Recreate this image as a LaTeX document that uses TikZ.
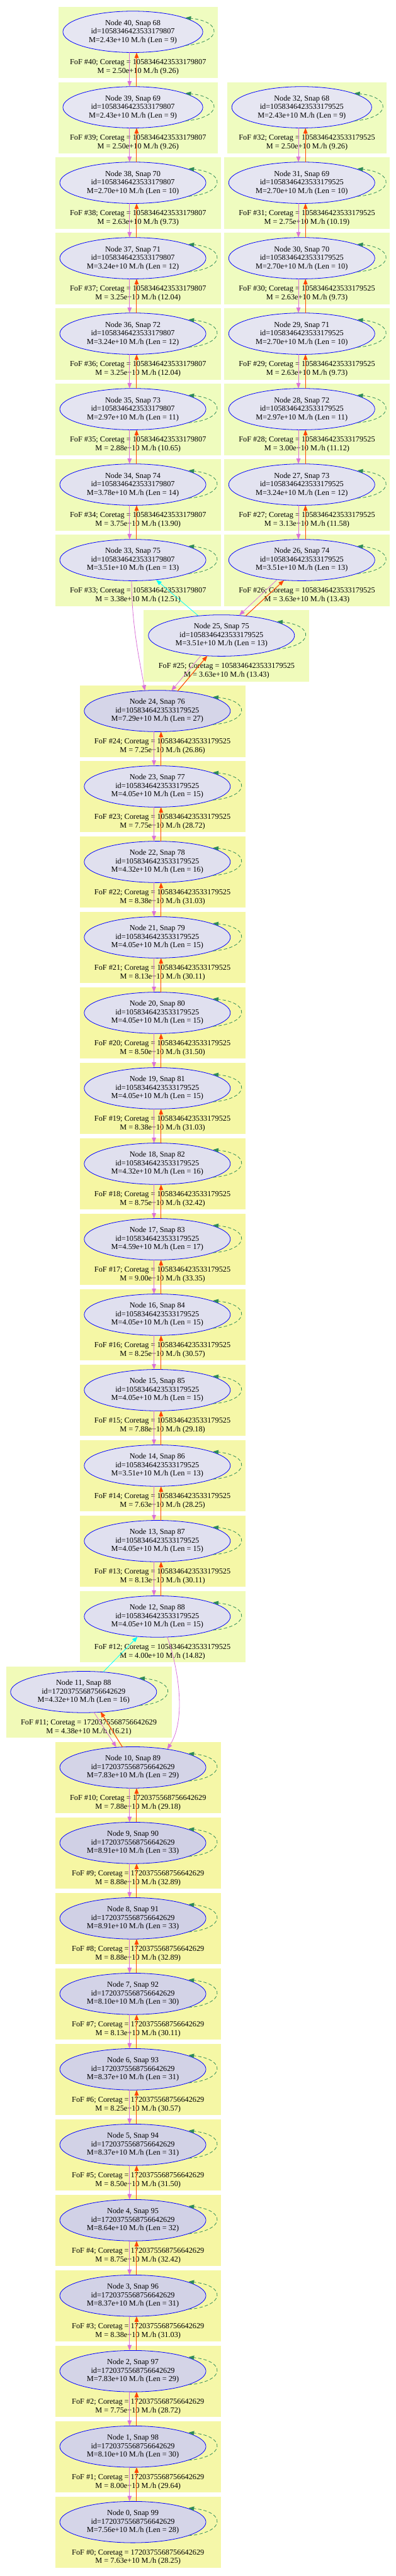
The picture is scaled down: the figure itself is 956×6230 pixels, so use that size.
\documentclass[tikz,border=0pt]{standalone}
\usepackage{fontspec}
\setmainfont{Liberation Serif}
\usetikzlibrary{shapes.geometric, arrows.meta}
\definecolor{halolo}{HTML}{E6E6F2}
\definecolor{halohi}{HTML}{D0D0E5}
\definecolor{foflo}{HTML}{EFFCC0}
\definecolor{fofhi}{HTML}{F6F6A2}
\definecolor{progviolet}{HTML}{DA70D6}
\definecolor{descorange}{HTML}{FF4500}
\definecolor{mergecyan}{HTML}{00FFFF}
\definecolor{loopgreen}{HTML}{2E8B57}
\newcommand{\tagA}{1058346423533179807}
\newcommand{\tagB}{1058346423533179525}
\newcommand{\tagC}{1720375568756642629}
\tikzset{
    halo/.style={ellipse, draw=blue, line width=0.9pt, inner sep=0pt, minimum height=75pt, align=center, font=\fontsize{14}{15.4}\selectfont},
    foflabel/.style={inner sep=0pt, align=center, font=\fontsize{14}{15.4}\selectfont},
    tip/.style={-{Triangle[length=10pt,width=7.5pt]}},
    prog/.style={tip, draw=progviolet, line width=0.9pt},
    desc/.style={tip, draw=descorange, line width=1.2pt},
    merge/.style={tip, draw=mergecyan, line width=0.9pt},
    selfloop/.style={tip, draw=loopgreen, dash pattern=on 6pt off 4pt, line width=0.9pt}
}

\begin{document}
\begin{tikzpicture}[x=0.75pt, y=-0.75pt]
\useasboundingbox (0,0) rectangle (956,6230);
% halo boxes and nodes: id / x / row / snap / coretag / M / Len / FoF M / FoF ratio
\foreach \nid/\cx/\row/\snap/\ctag/\mass/\len/\fmass/\fratio in {
    40/321/0/68/\tagA/2.43/9/2.50/9.26,
    39/321/1/69/\tagA/2.43/9/2.50/9.26,
    38/321/2/70/\tagA/2.70/10/2.63/9.73,
    37/321/3/71/\tagA/3.24/12/3.25/12.04,
    36/321/4/72/\tagA/3.24/12/3.25/12.04,
    35/321/5/73/\tagA/2.97/11/2.88/10.65,
    34/321/6/74/\tagA/3.78/14/3.75/13.90,
    33/321/7/75/\tagA/3.51/13/3.38/12.51,
    32/729/1/68/\tagB/2.43/9/2.50/9.26,
    31/729/2/69/\tagB/2.70/10/2.75/10.19,
    30/729/3/70/\tagB/2.70/10/2.63/9.73,
    29/729/4/71/\tagB/2.70/10/2.63/9.73,
    28/729/5/72/\tagB/2.97/11/3.00/11.12,
    27/729/6/73/\tagB/3.24/12/3.13/11.58,
    26/729/7/74/\tagB/3.51/13/3.63/13.43,
    25/535/8/75/\tagB/3.51/13/3.63/13.43,
    24/380/9/76/\tagB/7.29/27/7.25/26.86,
    23/380/10/77/\tagB/4.05/15/7.75/28.72,
    22/380/11/78/\tagB/4.32/16/8.38/31.03,
    21/380/12/79/\tagB/4.05/15/8.13/30.11,
    20/380/13/80/\tagB/4.05/15/8.50/31.50,
    19/380/14/81/\tagB/4.05/15/8.38/31.03,
    18/380/15/82/\tagB/4.32/16/8.75/32.42,
    17/380/16/83/\tagB/4.59/17/9.00/33.35,
    16/380/17/84/\tagB/4.05/15/8.25/30.57,
    15/380/18/85/\tagB/4.05/15/7.88/29.18,
    14/380/19/86/\tagB/3.51/13/7.63/28.25,
    13/380/20/87/\tagB/4.05/15/8.13/30.11,
    12/380/21/88/\tagB/4.05/15/4.00/14.82,
    11/202/22/88/\tagC/4.32/16/4.38/16.21,
    10/321/23/89/\tagC/7.83/29/7.88/29.18,
    9/321/24/90/\tagC/8.91/33/8.88/32.89,
    8/321/25/91/\tagC/8.91/33/8.88/32.89,
    7/321/26/92/\tagC/8.10/30/8.13/30.11,
    6/321/27/93/\tagC/8.37/31/8.25/30.57,
    5/321/28/94/\tagC/8.37/31/8.50/31.50,
    4/321/29/95/\tagC/8.64/32/8.75/32.42,
    3/321/30/96/\tagC/8.37/31/8.38/31.03,
    2/321/31/97/\tagC/7.83/29/7.75/28.72,
    1/321/32/98/\tagC/8.10/30/8.00/29.64,
    0/321/33/99/\tagC/7.56/28/7.63/28.25}{
    \pgfmathsetmacro\cy{77+182.5*\row}
    \pgfmathsetmacro\rx{\len<10 ? 169 : 176.5}
    \pgfmathtruncatemacro\tn{min(100,max(0,(\mass-2.43)/6.48*100))}
    \pgfmathtruncatemacro\tf{min(100,max(0,(\fmass-2.5)/6.5*100))}
    \fill[fofhi!\tf!foflo] (\cx-\rx-11,\cy-61) rectangle (\cx+\rx+36,\cy+111);
    \node[foflabel] (f\nid) at (\cx+12.5,\cy+85.5) {FoF \#\nid; Coretag = \ctag\\M = \fmass e+10 M./h (\fratio)};
    \node[halo, fill=halohi!\tn!halolo, minimum width=1.5*\rx] (n\nid) at (\cx,\cy) {Node \nid, Snap \snap\\id=\ctag\\M=\mass e+10 M./h (Len = \len)};
    \draw[selfloop] ([shift={(\rx-42,33)}]n\nid.center) .. controls ([shift={(\rx+48,25)}]n\nid.center) and ([shift={(\rx+48,-25)}]n\nid.center) .. ([shift={(\rx-42,-34)}]n\nid.center);
}
% straight links along each branch
\foreach \lo/\hi in {1/10,13/24,27/32,34/40}{
    \foreach \a in {\lo,...,\hi}{
        \pgfmathtruncatemacro\b{\a-1}
        \draw[prog] ([shift={(-8,50)}]n\a.center) -- ([shift={(-8,-50)}]n\b.center);
        \draw[desc] ([shift={(9,-50)}]n\b.center) -- ([shift={(9,50)}]n\a.center);
    }
}
% where the branches meet
\draw[merge] (n25) -- (n33);
\draw[merge] (n11) -- (n12);
\draw[prog] ([shift={(-59,47)}]n26.center) -- ([shift={(43,-49)}]n25.center);
\draw[desc] ([shift={(58,-47)}]n25.center) -- ([shift={(-43,49)}]n26.center);
\draw[prog] ([shift={(-49,48)}]n25.center) -- ([shift={(34,-49)}]n24.center);
\draw[desc] ([shift={(49,-48)}]n24.center) -- ([shift={(-34,49)}]n25.center);
\draw[prog] ([shift={(25,49)}]n11.center) -- ([shift={(-40,-49)}]n10.center);
\draw[desc] ([shift={(-25,-49)}]n10.center) -- ([shift={(41,48)}]n11.center);
\draw[prog] ([shift={(-3,50)}]n33.center) .. controls +(0,110) and +(-12,-70) .. ([shift={(-30,-49)}]n24.center);
\draw[prog] ([shift={(24,49)}]n12.center) .. controls +(25,70) and +(48,-75) .. ([shift={(83,-44)}]n10.center);
\end{tikzpicture}
\end{document}
